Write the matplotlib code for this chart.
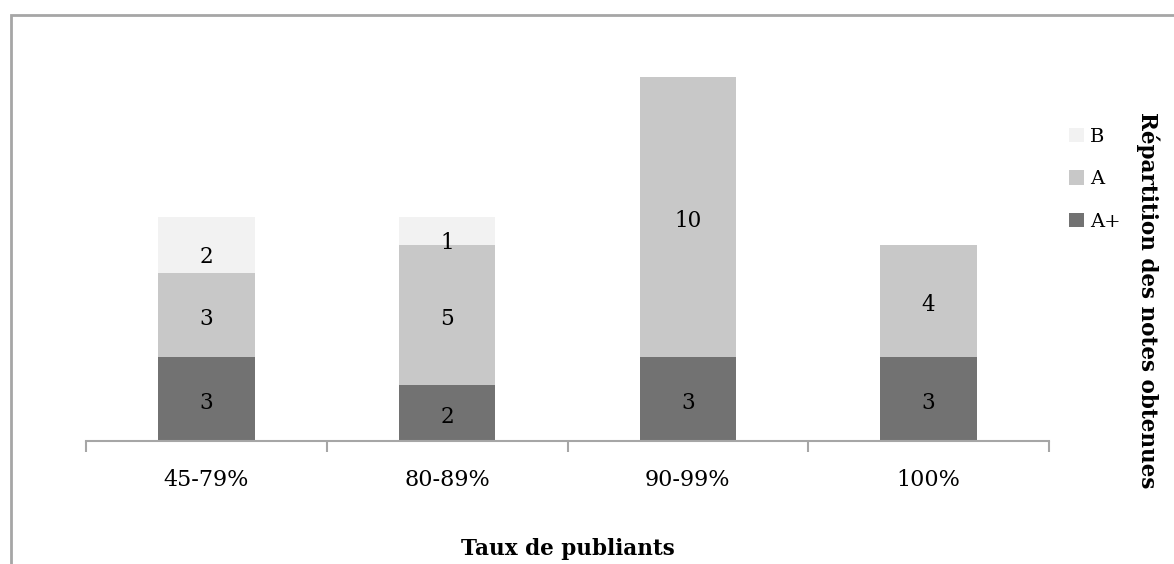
import matplotlib.pyplot as plt
import numpy as np
from matplotlib.patches import Rectangle

categories = ['45-79%', '80-89%', '90-99%', '100%']
a_plus = [3, 2, 3, 3]
a_grade = [3, 5, 10, 4]
b_grade = [2, 1, 0, 0]

plt.rcParams['font.family'] = ['DejaVu Serif']

fig = plt.figure(figsize=(11.74, 5.64), dpi=100)
ax = fig.add_axes([86 / 1174, 1 - 441 / 564, (1049 - 86) / 1174, 392 / 564])

x = np.arange(len(categories))
w = 0.4
# (name, values, colour, label nudge)
series = [('A+', a_plus, '#727272', -0.15), ('A', a_grade, '#c8c8c8', -0.15),
          ('B', b_grade, '#f2f2f2', -0.42)]
bottom = np.zeros(len(categories))
handles = []
for name, vals, col, nudge in series:
    vals = np.array(vals)
    bars = ax.bar(x, vals, w, bottom=bottom, color=col, label=name, zorder=2)
    handles.append(bars)
    for xi, v, b in zip(x, vals, bottom):
        if v > 0:
            ax.text(xi, b + v / 2 + nudge, str(v), ha='center', va='center',
                    fontsize=15.5, color='black')
    bottom += vals

ax.set_xlim(-0.5, 3.5)
ax.set_ylim(0, 14)
ax.set_yticks([])
for s in ['left', 'right', 'top']:
    ax.spines[s].set_visible(False)
ax.spines['bottom'].set_color('#a6a6a6')
ax.spines['bottom'].set_linewidth(1.5)
ax.set_xticks(np.arange(-0.5, 4, 1))
ax.set_xticklabels([])
ax.set_xticks(x, minor=True)
ax.set_xticklabels(categories, minor=True, fontsize=16)
ax.tick_params(axis='x', which='major', length=8, width=1.5, color='#a6a6a6')
ax.tick_params(axis='x', which='minor', length=0, pad=20)

ax.set_xlabel('Taux de publiants', fontsize=15.5, fontweight='bold', labelpad=34)

leg = ax.legend(handles[::-1], ['B', 'A', 'A+'], loc='upper left',
                bbox_to_anchor=(1069 / 1174, 1 - 128 / 564),
                bbox_transform=fig.transFigure, frameon=False, fontsize=14,
                handlelength=0.75, handleheight=0.75, labelspacing=1.25,
                handletextpad=0.35, borderpad=0, borderaxespad=0)

fig.text(1148 / 1174, 1 - 300 / 564, 'Répartition des notes obtenues', rotation=270,
         ha='center', va='center', fontsize=15.5, fontweight='bold')

fig.patches.append(Rectangle((11 / 1174, -0.1), 1.2, 1 - 15 / 564 + 0.1,
                             transform=fig.transFigure, fill=False,
                             edgecolor='#a6a6a6', linewidth=2))

fig.savefig('out.png', dpi=100)
